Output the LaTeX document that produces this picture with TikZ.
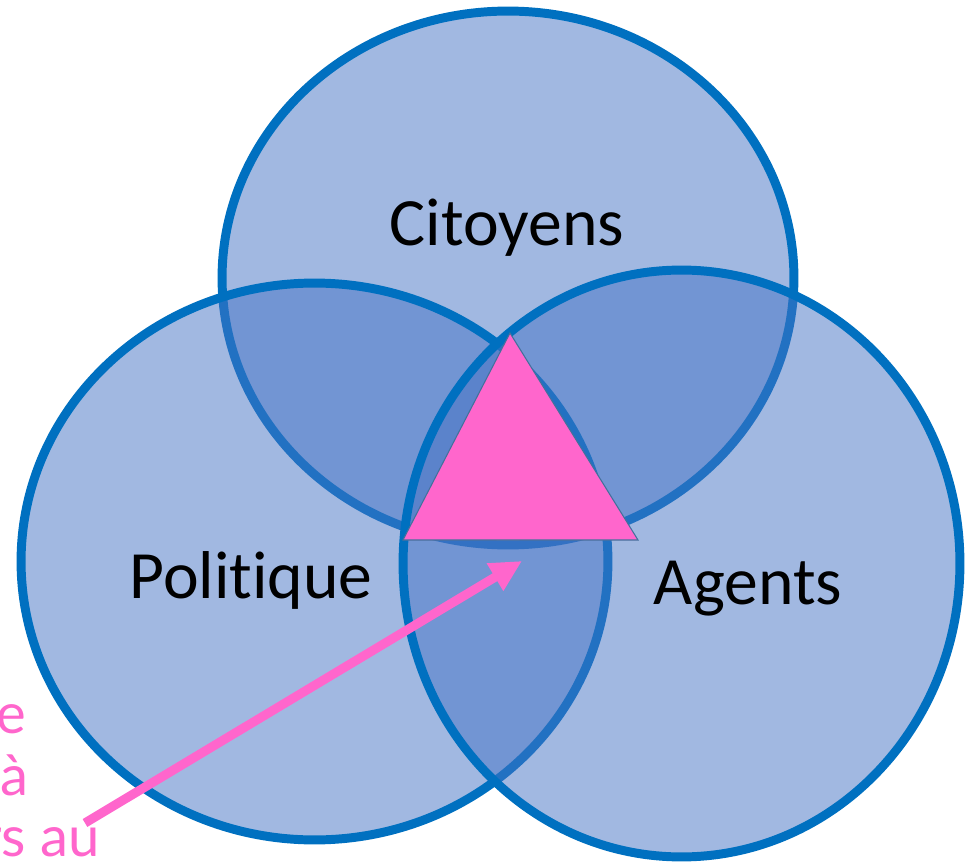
\documentclass[tikz,border=0pt]{standalone}
\usepackage{fontspec}
\setmainfont{Carlito}[Ligatures=NoCommon]
\newfontfamily\notefont{Lato}
\usepackage{tikz}
\usetikzlibrary{shapes.geometric, arrows.meta}
\definecolor{setfill}{HTML}{4472C4}
\definecolor{setline}{HTML}{0070C0}
\definecolor{hotpink}{HTML}{FF66CC}
\definecolor{triline}{HTML}{41719C}

\begin{document}
\begin{tikzpicture}[x=0.02cm, y=-0.02cm,
    set/.style={ellipse, draw=setline, line width=5.1pt, fill=setfill, fill opacity=0.5, inner sep=0pt},
    setname/.style={anchor=base, inner sep=0pt, font=\fontsize{38.5}{46}\selectfont},
    note/.style={anchor=base east, inner sep=0pt, text=hotpink, font=\notefont\fontsize{32}{38}\selectfont}]
    \useasboundingbox (0,0) rectangle (965,862);
    \clip (0,0) rectangle (965,862);
    % the three sets, drawn top, left, right
    \foreach \n/\x/\y/\w/\h in {cit/508/278/11.44/10.68, pol/314.5/561.5/11.74/11.14, age/681.5/563.5/11.14/11.74}
        \node[set, minimum width=\w cm, minimum height=\h cm] (\n) at (\x,\y) {};
    \node[setname] (citname) at (507,245) {Citoyens};
    \node[setname] (polname) at (251,598) {Politique};
    \node[setname] (agename) at (748,604) {Agents};
    % triangle in the middle
    \coordinate (tritop) at (510,333);
    \coordinate (trileft) at (403,540);
    \coordinate (triright) at (638,540);
    \draw[fill=hotpink, draw=triline, line width=0.6pt] (tritop) -- (trileft) -- (triright) -- cycle;
    % note cut off at the left edge
    \node[note] (note1) at (27,733) {e};
    \node[note] (note2) at (29,795) {à};
    \node[note] (note3) at (100,856) {rs au};
    \coordinate (tail) at (85,823);
    \coordinate (head) at (522,561);
    \draw[hotpink, line width=5.2pt, -{Triangle[length=0.63cm, width=0.6cm]}] (tail) -- (head);
\end{tikzpicture}
\end{document}
